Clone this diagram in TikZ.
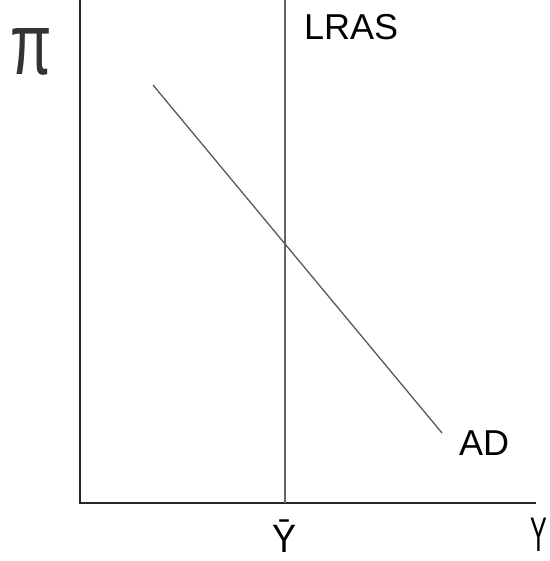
\documentclass[tikz,border=0pt]{standalone}
\usepackage{fontspec}
\setmainfont{Liberation Sans}

\begin{document}
\begin{tikzpicture}[x=1pt,y=-1pt]
\tikzset{lbl/.style={inner sep=0pt,font=\fontsize{36}{36}\selectfont}}
\path[use as bounding box] (0,0) rectangle (549,561);
\coordinate (o) at (80,503);
\coordinate (ytop) at (80,0);
\coordinate (xend) at (536,503);
\coordinate (lrastop) at (285,0);
\coordinate (lrasbot) at (285,503);
\coordinate (adtop) at (153,85);
\coordinate (adbot) at (442,433);
\draw[line width=1.6pt,black!85] (ytop) -- (o) -- (xend);
\draw[line width=1.4pt,black!60] (lrastop) -- (lrasbot);
\draw[line width=1.3pt,black!65] (adtop) -- (adbot);
\node[lbl,font=\fontsize{60}{60}\selectfont,yscale=1.45,text=black!80] (pi) at (31,52) {π};
\node[lbl,anchor=west] (lras) at (304,27) {LRAS};
\node[lbl,anchor=west] (ad) at (459,443) {AD};
\node[lbl,yscale=1.1] (ybar) at (285,536) {Ȳ};
\node[lbl,yscale=1.35,xscale=0.7] (y) at (539,535) {Y};
\end{tikzpicture}
\end{document}
